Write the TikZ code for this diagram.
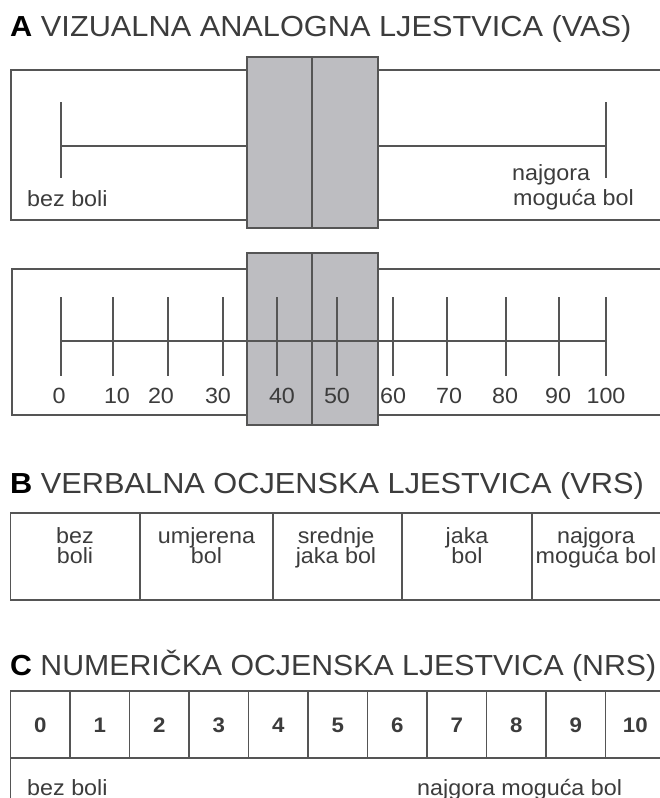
\documentclass[tikz,border=0pt]{standalone}
\usepackage{fontspec}
\setmainfont{Liberation Sans}
\definecolor{ln}{HTML}{555555}
\definecolor{tx}{HTML}{3C3C3C}
\definecolor{gr}{HTML}{BDBDC1}
\begin{document}
\begin{tikzpicture}[x=1pt,y=-1pt,
  frame/.style={draw=ln,line width=1.8pt},
  gbox/.style={draw=ln,line width=1.8pt,fill=gr},
  scl/.style={draw=ln,line width=1.6pt},
  ttl/.style={anchor=base west,inner sep=0pt,xscale=1.06,text=tx,font=\fontsize{29}{32}\selectfont},
  lbl/.style={inner sep=0pt,xscale=1.06,text=tx,font=\fontsize{22}{20}\selectfont},
  num/.style={inner sep=0pt,xscale=1.06,text=tx,anchor=base,font=\fontsize{21}{24}\selectfont\bfseries},
]
\useasboundingbox (0,0) rectangle (660,798);
\clip (0,0) rectangle (660,798);
\fill[white] (0,0) rectangle (660,798);

% ---------- A ----------
\node[ttl] (tA) at (10,36) {\textcolor{black}{\textbf{A}} VIZUALNA ANALOGNA LJESTVICA (VAS)};

\draw[frame] (11,70) rectangle (668,220);
\coordinate (a0) at (61,146);
\coordinate (a1) at (606,146);
\draw[scl] (a0) -- (a1);
\draw[scl] (61,102) -- (61,178);
\draw[scl] (606,102) -- (606,178);
\draw[gbox] (247,57) rectangle (378,228);
\draw[scl] (312,57) -- (312,228);
\node[lbl,anchor=base west] (bA) at (27,206) {bez boli};
\node[lbl,anchor=base west] (nA) at (512,180) {najgora};
\node[lbl,anchor=base west] (mA) at (513,205) {moguća bol};

% ---------- A (numbered) ----------
\draw[frame] (12,269) rectangle (668,415);
\draw[gbox] (247,253) rectangle (378,425);
\draw[scl] (312,253) -- (312,425);
\coordinate (s0) at (61,341);
\coordinate (s1) at (606,341);
\draw[scl] (s0) -- (s1);
\foreach \x in {61,113,168,223,277,337,393,447,506,559,606}
  \draw[scl] (\x,297) -- (\x,376);
\foreach \x/\t in {59/0,117/10,161/20,218/30,282/40,337/50,393/60,449/70,505/80,558/90,606/100}
  \node[lbl,anchor=base] (v\t) at (\x,403) {\t};

% ---------- B ----------
\node[ttl] (tB) at (10,493) {\textcolor{black}{\textbf{B}} VERBALNA OCJENSKA LJESTVICA (VRS)};
\draw[frame] (10.5,513) rectangle (668,600);
\foreach \x in {140,273,402,532}
  \draw[frame] (\x,513) -- (\x,600);
\foreach \x/\n/\a/\b in {75/b1/bez/boli,206.5/b2/umjerena/bol,336/b3/srednje/jaka bol,467/b4/jaka/bol,596/b5/najgora/moguća bol}{
  \node[lbl,anchor=base] (\n u) at (\x,543) {\a};
  \node[lbl,anchor=base] (\n l) at (\x,563) {\b};
}

% ---------- C ----------
\node[ttl,xscale=0.985] (tC) at (10,675) {\textcolor{black}{\textbf{C}} NUMERIČKA OCJENSKA LJESTVICA (NRS)};
\draw[frame] (10.5,691) rectangle (668,830);
\draw[frame] (10.5,758) -- (668,758);
\foreach \k in {1,...,10}
  \draw[frame] ({10.5+59.5*\k},691) -- ({10.5+59.5*\k},758);
\foreach \k in {0,...,10}
  \node[num] (c\k) at ({40.25+59.5*\k},732) {\k};
\node[lbl,anchor=base west] (cb) at (27,795) {bez boli};
\node[lbl,anchor=base west] (cn) at (417,795) {najgora moguća bol};
\end{tikzpicture}
\end{document}
